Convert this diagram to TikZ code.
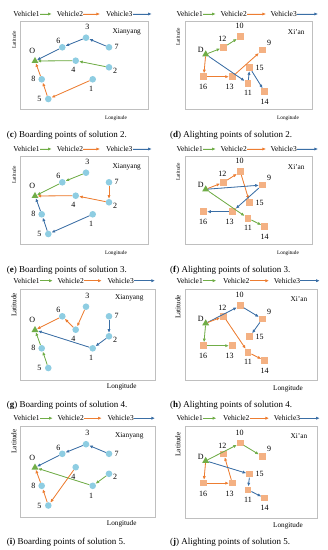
\documentclass[tikz,border=0pt]{standalone}
\usepackage{fontspec}
\setmainfont{Liberation Serif}
\usetikzlibrary{arrows.meta,shapes.geometric}
\definecolor{vgreen}{HTML}{70AD47}
\definecolor{vorange}{HTML}{ED7D31}
\definecolor{vblue}{HTML}{3A6EA5}
\definecolor{ptblue}{HTML}{8ECDE2}
\definecolor{ptorange}{HTML}{F4B183}
\definecolor{framegray}{HTML}{BFBFBF}

\newcommand\BoardNodes{%
  \node[depot] (O) at (35,61) {};
  \node[pt] (n1) at (92.7,79.3) {};
  \node[pt] (n2) at (109,67.3) {};
  \node[pt] (n3) at (86,37.7) {};
  \node[pt] (n4) at (75.7,60.7) {};
  \node[pt] (n5) at (48.3,99) {};
  \node[pt] (n6) at (62.3,47.3) {};
  \node[pt] (n7) at (109,47.3) {};
  \node[pt] (n8) at (41.7,79.3) {};
  \node[num] (lO) at (32.3,51) {O};
  \node[num] (l1) at (91,89.3) {1};
  \node[num] (l2) at (115,70.7) {2};
  \node[num] (l3) at (87.3,26.7) {3};
  \node[num] (l4) at (73.3,70) {4};
  \node[num] (l5) at (39.3,99) {5};
  \node[num] (l6) at (58.3,41) {6};
  \node[num] (l7) at (116.7,47.3) {7};
  \node[num] (l8) at (33.3,79.3) {8};
}
\newcommand\AlightNodes{%
  \node[depot] (D) at (205.7,54.3) {};
  \node[sq] (n9) at (262.3,50) {};
  \node[sq] (n10) at (240.3,36.7) {};
  \node[sq] (n11) at (248,83.3) {};
  \node[sq] (n12) at (223.7,47.3) {};
  \node[sq] (n13) at (232.3,76.7) {};
  \node[sq] (n14) at (264.7,91.7) {};
  \node[sq] (n15) at (249.7,67.7) {};
  \node[sq] (n16) at (203.7,76.7) {};
  \node[num] (lD) at (200.7,50) {D};
  \node[num] (l9) at (269,42.7) {9};
  \node[num] (l10) at (239.7,26) {10};
  \node[num] (l11) at (248,93.3) {11};
  \node[num] (l12) at (222.3,39) {12};
  \node[num] (l13) at (229.7,87.3) {13};
  \node[num] (l14) at (264.7,101.7) {14};
  \node[num] (l15) at (259.7,67.7) {15};
  \node[num] (l16) at (203,87.3) {16};
}
% legend: #1 V1 x, #2 end1, #3 V2 x, #4 end2, #5 V3 x, #6 end3, #7 y
\newcommand\LegendRow[7]{%
  \node[leg,anchor=west] (t1) at (#1,#7) {Vehicle1};
  \coordinate (e1) at (#2,#7);
  \draw[v1] (t1.east) -- (e1);
  \node[leg,anchor=west] (t2) at (#3,#7) {Vehicle2};
  \coordinate (e2) at (#4,#7);
  \draw[v2] (t2.east) -- (e2);
  \node[leg,anchor=west] (t3) at (#5,#7) {Vehicle3};
  \coordinate (e3) at (#6,#7);
  \draw[v3] (t3.east) -- (e3);
}

\begin{document}
\begin{tikzpicture}[x=1bp,y=-1bp,
  pt/.style={circle,fill=ptblue,inner sep=0,minimum size=6.6bp},
  sq/.style={rectangle,fill=ptorange,inner sep=0,minimum size=6.5bp},
  depot/.style={regular polygon,regular polygon sides=3,fill=vgreen,inner sep=0,minimum size=8bp},
  num/.style={inner sep=0,font=\fontsize{8bp}{9bp}\selectfont},
  leg/.style={inner sep=0,font=\fontsize{7.5bp}{8bp}\selectfont},
  city/.style={inner sep=0,font=\fontsize{7.3bp}{8bp}\selectfont},
  axsmall/.style={inner sep=0,font=\fontsize{5.3bp}{6bp}\selectfont},
  axbig/.style={inner sep=0,font=\fontsize{7.2bp}{8bp}\selectfont},
  captxt/.style={inner sep=0,anchor=west,font=\fontsize{9bp}{10bp}\selectfont},
  boxframe/.style={draw=framegray,line width=0.7bp},
  route/.style={line width=0.8bp,-{Latex[length=3.6bp,width=3.2bp]}},
  v1/.style={route,draw=vgreen,fill=vgreen},
  v2/.style={route,draw=vorange,fill=vorange},
  v3/.style={route,draw=vblue,fill=vblue}]
\useasboundingbox (0,0) rectangle (327,550);
\fill[white] (0,0) rectangle (327,550);

% ---------- row 1 ----------
\begin{scope}[name prefix=c-]
  \draw[boxframe] (20.7,21.5) rectangle (148,109);
  \LegendRow{13.3}{51.7}{56.7}{100}{106}{151.7}{14}
  \node[axsmall,rotate=90] (lat) at (14,40) {Latitude};
  \node[axsmall] (lon) at (116,118) {Longitude};
  \node[city] (city) at (126.7,31.7) {Xianyang};
  \BoardNodes
  \draw[v3] (n7) -- (n3); \draw[v3] (n3) -- (n6); \draw[v3] (n6) -- (O);
  \draw[v1] (n2) -- (n4); \draw[v1] (n4) -- (O);
  \draw[v2] (n1) -- (n5); \draw[v2] (n5) -- (n8); \draw[v2] (n8) -- (O);
  \node[captxt] (caption) at (6.7,135.5) {(\textbf{c}) Boarding points of solution 2.};
\end{scope}
\begin{scope}[name prefix=d-]
  \draw[boxframe] (185,21.5) rectangle (312,109);
  \LegendRow{176.3}{215.7}{220.3}{266}{270.3}{318}{14}
  \node[axsmall,rotate=90] (lat) at (178,37) {Latitude};
  \node[axsmall] (lon) at (288,118) {Longitude};
  \node[city] (city) at (296.3,31.7) {Xi'an};
  \AlightNodes
  \draw[v1] (D) -- (n12); \draw[v1] (n12) -- (n10);
  \draw[v2] (D) -- (n16); \draw[v2] (n16) -- (n13); \draw[v2] (n13) -- (n9);
  \draw[v3] (D) -- (n11); \draw[v3] (n11) -- (n15); \draw[v3] (n15) -- (n14);
  \node[captxt] (caption) at (170,135.5) {(\textbf{d}) Alighting points of solution 2.};
\end{scope}

% ---------- row 2 ----------
\begin{scope}[shift={(0,135)},name prefix=e-]
  \draw[boxframe] (20.7,21.5) rectangle (148,109);
  \LegendRow{13.3}{51.7}{56.7}{100}{106}{151.7}{14}
  \node[axsmall,rotate=90] (lat) at (14,40) {Latitude};
  \node[axsmall] (lon) at (116,118) {Longitude};
  \node[city] (city) at (126.7,31.7) {Xianyang};
  \BoardNodes
  \draw[v1] (n3) -- (n6); \draw[v1] (n6) -- (O);
  \draw[v2] (n7) -- (n2); \draw[v2] (n2) -- (n4); \draw[v2] (n4) -- (O);
  \draw[v3] (n1) -- (n5); \draw[v3] (n5) -- (n8); \draw[v3] (n8) -- (O);
  \node[captxt] (caption) at (6.7,135.5) {(\textbf{e}) Boarding points of solution 3.};
\end{scope}
\begin{scope}[shift={(0,135)},name prefix=f-]
  \draw[boxframe] (185,21.5) rectangle (312,109);
  \LegendRow{176.3}{215.7}{220.3}{266}{270.3}{318}{14}
  \node[axsmall,rotate=90] (lat) at (178,37) {Latitude};
  \node[axsmall] (lon) at (288,118) {Longitude};
  \node[city] (city) at (296.3,31.7) {Xi'an};
  \AlightNodes
  \draw[v2] (D) -- (n12); \draw[v2] (n12) -- (n10); \draw[v2] (n10) -- (n15);
  \draw[v3] (D) -- (n9); \draw[v3] (n9) -- (n13); \draw[v3] (n13) -- (n16);
  \draw[v1] (D) -- (n11); \draw[v1] (n11) -- (n14);
  \node[captxt] (caption) at (170,135.5) {(\textbf{f}) Alighting points of solution 3.};
\end{scope}

% ---------- row 3 ----------
\begin{scope}[shift={(0,269)},name prefix=g-]
  \draw[boxframe] (20.7,20.3) rectangle (155.7,111);
  \LegendRow{13.3}{52.7}{57.3}{101.7}{107.3}{155}{11.7}
  \node[axbig,rotate=90] (lat) at (14,36) {Latitude};
  \node[axbig] (lon) at (121.7,117.7) {Longitude};
  \node[city] (city) at (129.3,29.3) {Xianyang};
  \BoardNodes
  \draw[v2] (n3) -- (n4); \draw[v2] (n4) -- (n6); \draw[v2] (n6) -- (O);
  \draw[v3] (n7) -- (n2); \draw[v3] (n2) -- (n1); \draw[v3] (n1) -- (O);
  \draw[v1] (n5) -- (n8); \draw[v1] (n8) -- (O);
  \node[captxt] (caption) at (6.7,136) {(\textbf{g}) Boarding points of solution 4.};
\end{scope}
\begin{scope}[shift={(0,269)},name prefix=h-]
  \draw[boxframe] (185,20) rectangle (317,111.5);
  \LegendRow{176.3}{216.3}{223}{269}{273.7}{319.7}{11.7}
  \node[axbig,rotate=90] (lat) at (178,38) {Latitude};
  \node[axbig] (lon) at (288,119.7) {Longitude};
  \node[city] (city) at (299,29.7) {Xi'an};
  \AlightNodes
  \draw[v3] (D) -- (n10); \draw[v3] (n10) -- (n9); \draw[v3] (n9) -- (n15);
  \draw[v2] (D) -- (n12); \draw[v2] (n12) -- (n11); \draw[v2] (n11) -- (n14);
  \draw[v1] (D) -- (n16); \draw[v1] (n16) -- (n13);
  \node[captxt] (caption) at (170,136) {(\textbf{h}) Alighting points of solution 4.};
\end{scope}

% ---------- row 4 ----------
\begin{scope}[shift={(0,406.5)},name prefix=i-]
  \draw[boxframe] (20.7,20.3) rectangle (155.7,111);
  \LegendRow{13.3}{52.7}{57.3}{101.7}{107.3}{155}{11.7}
  \node[axbig,rotate=90] (lat) at (14,35) {Latitude};
  \node[axbig] (lon) at (121.7,117.7) {Longitude};
  \node[city] (city) at (129.3,29.3) {Xianyang};
  \BoardNodes
  \draw[v3] (n7) -- (n3); \draw[v3] (n3) -- (n6); \draw[v3] (n6) -- (O);
  \draw[v1] (n2) -- (n1); \draw[v1] (n1) -- (O);
  \draw[v2] (n4) -- (n5); \draw[v2] (n5) -- (n8); \draw[v2] (n8) -- (O);
  \node[captxt] (caption) at (6.7,135.5) {(\textbf{i}) Boarding points of solution 5.};
\end{scope}
\begin{scope}[shift={(0,406.5)},name prefix=j-]
  \draw[boxframe] (185,20) rectangle (317,111.5);
  \LegendRow{176.3}{216.3}{223}{269}{273.7}{319.7}{11.7}
  \node[axbig,rotate=90] (lat) at (178,38) {Latitude};
  \node[axbig] (lon) at (288,119.7) {Longitude};
  \node[city] (city) at (299,29.7) {Xi'an};
  \AlightNodes
  \draw[v1] (D) -- (n10); \draw[v1] (n10) -- (n9);
  \draw[v2] (D) -- (n16); \draw[v2] (n16) -- (n13); \draw[v2] (n13) -- (n12);
  \draw[v3] (D) -- (n15); \draw[v3] (n15) -- (n11); \draw[v3] (n11) -- (n14);
  \node[captxt] (caption) at (170,135.5) {(\textbf{j}) Alighting points of solution 5.};
\end{scope}
\end{tikzpicture}
\end{document}
